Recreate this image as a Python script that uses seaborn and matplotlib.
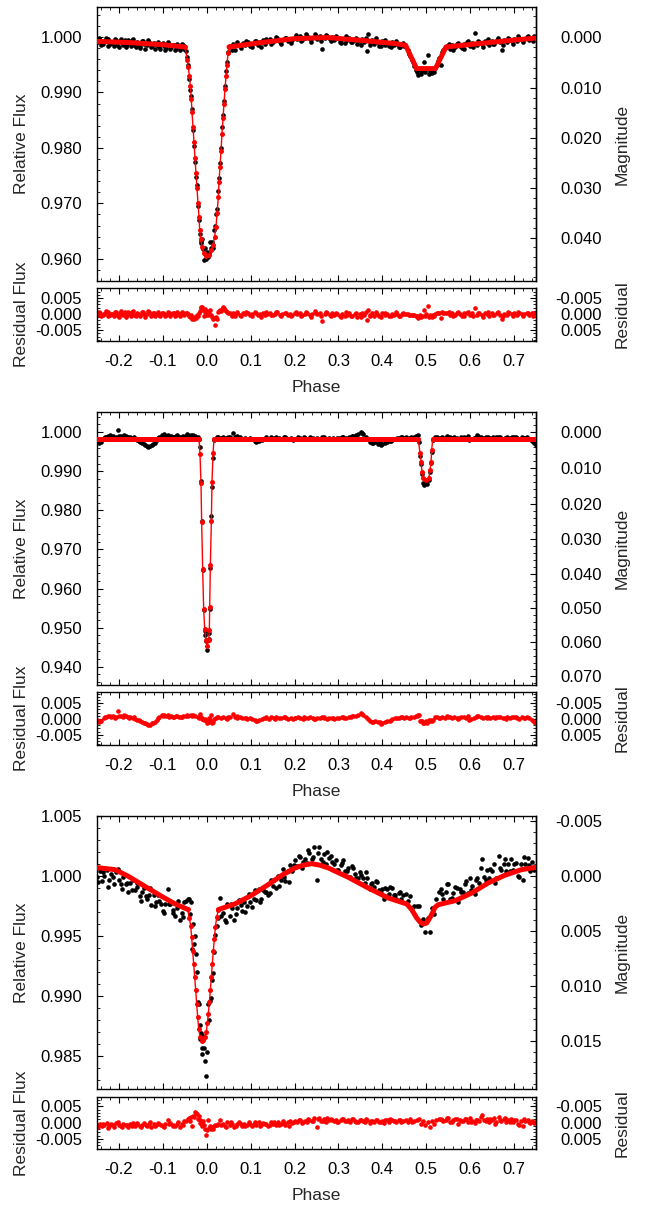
import numpy as np
import matplotlib
matplotlib.use("Agg")
import matplotlib.pyplot as plt
import seaborn as sns
from matplotlib.ticker import FixedLocator, AutoMinorLocator, FuncFormatter

# ---------------------------------------------------------------- panel 1 data
p1_phase = [
    -0.248, -0.243, -0.237, -0.232, -0.226, -0.221, -0.215, -0.209, -0.204, -0.198,
    -0.193, -0.187, -0.181, -0.176, -0.170, -0.165, -0.159, -0.153, -0.148, -0.142,
    -0.137, -0.131, -0.125, -0.120, -0.114, -0.109, -0.103, -0.097, -0.092, -0.086,
    -0.081, -0.075, -0.069, -0.064, -0.058, -0.053,
    -0.0475, -0.0440, -0.0418, -0.0395, -0.0372, -0.0352, -0.0330, -0.0312, -0.0290, -0.0268,
    -0.0246, -0.0224, -0.0200, -0.0178, -0.0160, -0.0140, -0.0125, -0.0108, -0.0090, -0.0070,
    -0.0050, -0.0030, -0.0010, 0.0010, 0.0030, 0.0055, 0.0075, 0.0097, 0.0120, 0.0142,
    0.0165, 0.0188, 0.0211, 0.0234, 0.0257, 0.0280, 0.0302, 0.0325, 0.0347, 0.0370,
    0.0393, 0.0416, 0.0439, 0.0461, 0.0484,
    0.054, 0.059, 0.065, 0.070, 0.076, 0.082, 0.087, 0.093, 0.099, 0.104,
    0.110, 0.116, 0.121, 0.127, 0.133, 0.138, 0.144, 0.150, 0.155, 0.161,
    0.167, 0.172, 0.178, 0.184, 0.189, 0.195, 0.201, 0.206, 0.212, 0.218,
    0.223, 0.229, 0.235, 0.240, 0.246, 0.252, 0.257, 0.262, 0.269, 0.274,
    0.280, 0.286, 0.291, 0.297, 0.303, 0.308, 0.314, 0.320, 0.325, 0.331,
    0.337, 0.342, 0.348, 0.354, 0.359, 0.364, 0.368, 0.371, 0.376, 0.382,
    0.388, 0.393, 0.399, 0.405, 0.410, 0.416, 0.422, 0.427, 0.433, 0.439,
    0.444, 0.450,
    0.455, 0.458, 0.461, 0.464, 0.467, 0.470, 0.473, 0.476, 0.479, 0.482,
    0.485, 0.488, 0.491, 0.494, 0.497, 0.500, 0.503, 0.506, 0.509, 0.512,
    0.515, 0.518, 0.521, 0.524, 0.527, 0.530, 0.533, 0.536, 0.539, 0.542,
    0.548, 0.553, 0.559, 0.565, 0.570, 0.576, 0.582, 0.587, 0.593, 0.599,
    0.604, 0.610, 0.616, 0.621, 0.627, 0.633, 0.638, 0.644, 0.650, 0.655,
    0.661, 0.667, 0.672, 0.678, 0.684, 0.689, 0.695, 0.701, 0.706, 0.712,
    0.718, 0.723, 0.729, 0.735, 0.740, 0.746,
]
p1_flux = [
    0.9990, 0.9995, 0.9988, 0.9993, 0.9996, 0.9987, 0.9991, 0.9997, 0.9986, 0.9992,
    0.9989, 0.9995, 0.9985, 0.9990, 0.9994, 0.9986, 0.9991, 0.9984, 0.9993, 0.9988,
    0.9985, 0.9991, 0.9983, 0.9989, 0.9986, 0.9981, 0.9988, 0.9984, 0.9980, 0.9987,
    0.9982, 0.9985, 0.9979, 0.9984, 0.9981, 0.9986,
    0.9975, 0.9963, 0.9950, 0.9925, 0.9905, 0.9893, 0.9870, 0.9832, 0.9803, 0.9774,
    0.9748, 0.9733, 0.9695, 0.9670, 0.9645, 0.9628, 0.9632, 0.9636, 0.9618, 0.9598,
    0.9608, 0.9619, 0.9600, 0.9612, 0.9603, 0.9610, 0.9631, 0.9620, 0.9630, 0.9619,
    0.9652, 0.9660, 0.9680, 0.9690, 0.9722, 0.9745, 0.9772, 0.9800, 0.9838, 0.9860,
    0.9885, 0.9912, 0.9938, 0.9955, 0.9972,
    0.9984, 0.9987, 0.9977, 0.9986, 0.9983, 0.9989, 0.9985, 0.9991, 0.9984, 0.9988,
    0.9993, 0.9986, 0.9991, 0.9994, 0.9988, 0.9992, 0.9996, 0.9990, 0.9994, 0.9998,
    0.9991, 0.9995, 0.9999, 0.9993, 0.9997, 0.9994, 0.9999, 0.9996, 1.0001, 0.9995,
    0.9998, 1.0002, 0.9996, 0.9999, 1.0006, 0.9997, 1.0001, 0.9978, 0.9999, 1.0002,
    0.9996, 1.0000, 0.9994, 0.9998, 0.9991, 0.9996, 0.9989, 0.9994, 0.9998, 0.9990,
    0.9995, 0.9987, 0.9993, 0.9997, 0.9991, 0.9975, 1.0006, 0.9990, 0.9994, 0.9987,
    0.9991, 0.9984, 0.9992, 0.9986, 0.9989, 0.9983, 0.9990, 0.9985, 0.9988, 0.9982,
    0.9987, 0.9984,
    0.9982, 0.9976, 0.9970, 0.9965, 0.9958, 0.9954, 0.9948, 0.9940, 0.9936, 0.9932,
    0.9940, 0.9934, 0.9938, 0.9955, 0.9936, 0.9942, 0.9968, 0.9933, 0.9939, 0.9935,
    0.9941, 0.9937, 0.9944, 0.9950, 0.9956, 0.9962, 0.9950, 0.9972, 0.9976, 0.9980,
    0.9984, 0.9979, 0.9986, 0.9982, 0.9988, 0.9984, 0.9980, 0.9987, 0.9990, 0.9983,
    0.9989, 1.0007, 0.9986, 0.9991, 0.9987, 0.9993, 0.9989, 0.9985, 0.9992, 0.9988,
    0.9995, 0.9990, 0.9977, 0.9994, 0.9991, 0.9997, 0.9993, 0.9996, 0.9992, 0.9999,
    0.9995, 0.9997, 1.0000, 0.9994, 0.9999, 1.0001,
]
p1_resid = [
    -0.0002, 0.0003, -0.0003, 0.0002, 0.0005, -0.0004, 0.0001, 0.0007, -0.0004, 0.0003,
    0.0000, 0.0006, -0.0004, 0.0002, 0.0006, -0.0002, 0.0004, -0.0003, 0.0006, 0.0001,
    -0.0001, 0.0005, -0.0003, 0.0004, 0.0001, -0.0004, 0.0003, 0.0000, -0.0004, 0.0003,
    -0.0001, 0.0002, -0.0004, 0.0001, -0.0001, 0.0004,
    0.0002, 0.0003, 0.0001, -0.0005, -0.0008, -0.0002, -0.0014, -0.0010, -0.0016, -0.0009,
    -0.0012, -0.0004, -0.0007, 0.0004, 0.0008, 0.0018, 0.0022, 0.0023, 0.0012, -0.0006,
    0.0006, 0.0015, -0.0003, 0.0009, -0.0004, 0.0002, 0.0014, -0.0002, -0.0009, -0.0016,
    -0.0012, -0.0034, -0.0008, -0.0015, 0.0005, 0.0008, 0.0013, 0.0009, 0.0016, 0.0021,
    0.0019, 0.0012, 0.0009, 0.0005, 0.0003,
    0.0002, 0.0004, -0.0007, 0.0002, -0.0002, 0.0004, -0.0001, 0.0004, -0.0003, 0.0000,
    0.0005, -0.0003, 0.0001, 0.0004, -0.0003, 0.0001, 0.0004, -0.0002, 0.0001, 0.0005,
    -0.0003, 0.0001, 0.0004, -0.0002, 0.0001, -0.0003, 0.0002, -0.0001, 0.0004, -0.0002,
    0.0000, 0.0004, -0.0002, 0.0001, 0.0008, -0.0001, 0.0002, -0.0021, 0.0000, 0.0003,
    -0.0003, 0.0002, -0.0004, 0.0000, -0.0006, -0.0001, -0.0007, -0.0002, 0.0002, -0.0005,
    0.0000, -0.0008, -0.0001, 0.0003, -0.0002, -0.0018, 0.0013, -0.0002, 0.0002, -0.0005,
    -0.0001, -0.0007, 0.0002, -0.0004, -0.0001, -0.0006, 0.0001, -0.0003, 0.0000, -0.0005,
    0.0001, -0.0001,
    0.0000, -0.0001, -0.0002, -0.0002, -0.0004, -0.0002, -0.0003, -0.0006, -0.0007, -0.0011,
    -0.0003, -0.0009, -0.0005, 0.0012, -0.0007, -0.0001, 0.0025, -0.0010, -0.0004, -0.0008,
    -0.0002, -0.0006, 0.0001, 0.0002, 0.0003, 0.0004, -0.0013, 0.0005, 0.0004, 0.0003,
    0.0002, -0.0004, 0.0003, -0.0002, 0.0004, -0.0001, -0.0005, 0.0002, 0.0004, -0.0003,
    0.0002, 0.0020, -0.0002, 0.0003, -0.0002, 0.0004, 0.0000, -0.0005, 0.0002, -0.0003,
    0.0004, -0.0002, -0.0015, 0.0001, -0.0002, 0.0004, -0.0001, 0.0002, -0.0003, 0.0004,
    -0.0001, 0.0001, 0.0004, -0.0003, 0.0002, 0.0003,
]
# second set of panel-1 observations (interleaved in phase)
p1_phase_b = [
    -0.246, -0.240, -0.235, -0.229, -0.224, -0.218, -0.212, -0.207, -0.201, -0.196,
    -0.190, -0.184, -0.179, -0.173, -0.167, -0.162, -0.156, -0.151, -0.145, -0.140,
    -0.134, -0.128, -0.123, -0.117, -0.111, -0.106, -0.100, -0.095, -0.089, -0.083,
    -0.078, -0.072, -0.067, -0.061, -0.056, -0.051,
    0.057, 0.068, 0.079, 0.090, 0.102, 0.113, 0.124, 0.135, 0.147, 0.158,
    0.169, 0.181, 0.192, 0.203, 0.215, 0.226, 0.237, 0.249, 0.260, 0.271,
    0.283, 0.294, 0.305, 0.317, 0.328, 0.339, 0.351, 0.362, 0.373, 0.385,
    0.396, 0.407, 0.419, 0.430, 0.441, 0.448,
    0.551, 0.562, 0.573, 0.585, 0.596, 0.607, 0.618, 0.630, 0.641, 0.652,
    0.664, 0.675, 0.686, 0.698, 0.709, 0.720, 0.732, 0.743,
]
p1_flux_b = [
    0.9998, 0.9985, 0.9993, 0.9999, 0.9984, 0.9989, 0.9983, 0.9995, 0.9982, 0.9997,
    0.9986, 0.9981, 0.9994, 0.9983, 0.9996, 0.9982, 0.9988, 0.9980, 0.9992, 0.9979,
    0.9994, 0.9981, 0.9988, 0.9978, 0.9991, 0.9979, 0.9989, 0.9977, 0.9990, 0.9978,
    0.9986, 0.9976, 0.9988, 0.9977, 0.9987, 0.9979,
    0.9976, 0.9990, 0.9980, 0.9993, 0.9982, 0.9993, 0.9982, 0.9996, 0.9988, 1.0000,
    0.9988, 0.9998, 0.9989, 1.0003, 0.9992, 1.0005, 0.9990, 1.0002, 0.9993, 1.0004,
    0.9992, 1.0001, 0.9989, 1.0002, 0.9991, 0.9999, 0.9985, 0.9998, 0.9986, 0.9998,
    0.9983, 0.9994, 0.9982, 0.9993, 0.9981, 0.9989,
    0.9988, 0.9976, 0.9989, 0.9979, 0.9993, 0.9982, 0.9992, 0.9981, 0.9996, 0.9987,
    0.9999, 0.9986, 0.9998, 0.9987, 1.0001, 0.9991, 1.0001, 0.9992,
]
p1_resid_b = [
    0.0006, -0.0007, 0.0000, 0.0008, -0.0007, -0.0001, -0.0007, 0.0005, -0.0008, 0.0008,
    -0.0003, -0.0008, 0.0005, -0.0005, 0.0008, -0.0006, 0.0000, -0.0007, 0.0005, -0.0008,
    0.0008, -0.0005, 0.0002, -0.0007, 0.0006, -0.0006, 0.0004, -0.0007, 0.0006, -0.0006,
    0.0003, -0.0007, 0.0005, -0.0006, 0.0005, -0.0003,
    -0.0007, 0.0006, -0.0005, 0.0007, -0.0006, 0.0004, -0.0008, 0.0005, -0.0004, 0.0007,
    -0.0006, 0.0003, -0.0007, 0.0006, -0.0005, 0.0007, -0.0008, 0.0004, -0.0006, 0.0005,
    -0.0007, 0.0003, -0.0008, 0.0006, -0.0005, 0.0004, -0.0009, 0.0005, -0.0006, 0.0007,
    -0.0008, 0.0004, -0.0007, 0.0005, -0.0006, 0.0003,
    0.0006, -0.0007, 0.0005, -0.0006, 0.0007, -0.0005, 0.0004, -0.0008, 0.0006, -0.0004,
    0.0007, -0.0006, 0.0005, -0.0007, 0.0006, -0.0005, 0.0004, -0.0006,
]
p1_model_phase = [
    -0.25, -0.18, -0.10, -0.0495, -0.0443, -0.0420, -0.0397, -0.0374, -0.0351, -0.0336,
    -0.0313, -0.0290, -0.0268, -0.0245, -0.0222, -0.0199, -0.0177, -0.0161, -0.0139, -0.0108,
    -0.0070, -0.0009, 0.0044, 0.0097, 0.0142, 0.0180, 0.0211, 0.0234, 0.0264, 0.0279,
    0.0302, 0.0325, 0.0347, 0.0370, 0.0393, 0.0416, 0.0439, 0.0461, 0.0484, 0.0507,
    0.125, 0.20, 0.275, 0.35, 0.43, 0.453, 0.478, 0.521, 0.545, 0.62, 0.695, 0.75,
]
p1_model_flux = [
    0.9992, 0.9990, 0.9986, 0.9982, 0.9958, 0.9945, 0.9930, 0.9912, 0.9888, 0.9864,
    0.9838, 0.9810, 0.9781, 0.9754, 0.9727, 0.9700, 0.9676, 0.9652, 0.9635, 0.9622,
    0.9611, 0.9605, 0.9607, 0.9615, 0.9625, 0.9640, 0.9658, 0.9682, 0.9711, 0.9739,
    0.9766, 0.9795, 0.9825, 0.9853, 0.9880, 0.9906, 0.9929, 0.9950, 0.9971, 0.9982,
    0.9990, 0.9997, 0.9999, 0.9994, 0.9988, 0.9985, 0.9943, 0.9943, 0.9982, 0.9988, 0.9994, 0.9998,
]

# ---------------------------------------------------------------- panel 2 data
p2_phase = [
    -0.249, -0.245, -0.240, -0.235, -0.229, -0.224, -0.218, -0.213, -0.207, -0.202,
    -0.196, -0.191, -0.185, -0.180, -0.174, -0.169, -0.163, -0.158, -0.152, -0.147,
    -0.141, -0.136, -0.130, -0.125, -0.119, -0.114, -0.108, -0.103, -0.097, -0.092,
    -0.086, -0.081, -0.075, -0.070, -0.064, -0.059, -0.053, -0.048, -0.042, -0.037,
    -0.031, -0.026, -0.021,
    -0.0170, -0.0154, -0.0131, -0.0116, -0.0093, -0.0070, -0.0047, -0.0030, -0.0017, 0.0013,
    0.0044, 0.0059, 0.0067, 0.0082, 0.0105, 0.0120, 0.0143, 0.0165,
    0.021, 0.026, 0.032, 0.037, 0.043, 0.048, 0.054, 0.059, 0.065, 0.070,
    0.076, 0.081, 0.087, 0.092, 0.098, 0.103, 0.109, 0.114, 0.120, 0.125,
    0.131, 0.136, 0.142, 0.147, 0.153, 0.158, 0.164, 0.169, 0.175, 0.180,
    0.186, 0.191, 0.197, 0.202, 0.208, 0.213, 0.219, 0.224, 0.230, 0.235,
    0.241, 0.246, 0.252, 0.257, 0.263, 0.268, 0.274, 0.279, 0.285, 0.290,
    0.296, 0.301, 0.307, 0.312, 0.318, 0.323, 0.329, 0.334, 0.340, 0.345,
    0.351, 0.356, 0.362, 0.367, 0.373, 0.378, 0.384, 0.389, 0.395, 0.400,
    0.406, 0.411, 0.417, 0.422, 0.428, 0.433, 0.439, 0.444, 0.450, 0.455,
    0.461, 0.466, 0.472, 0.477,
    0.4800, 0.4819, 0.4840, 0.4858, 0.4881, 0.4903, 0.4934, 0.4960, 0.4995, 0.5025,
    0.5056, 0.5086, 0.5109, 0.5124, 0.5147,
    0.520, 0.525, 0.531, 0.536, 0.542, 0.547, 0.553, 0.558, 0.564, 0.569,
    0.575, 0.580, 0.586, 0.591, 0.597, 0.602, 0.608, 0.613, 0.619, 0.624,
    0.630, 0.635, 0.641, 0.646, 0.652, 0.657, 0.663, 0.668, 0.674, 0.679,
    0.685, 0.690, 0.696, 0.701, 0.707, 0.712, 0.718, 0.723, 0.729, 0.734,
    0.740, 0.745, 0.749,
]
p2_flux = [
    0.9978, 0.9972, 0.9975, 0.9986, 0.9988, 0.9990, 0.9987, 0.9991, 0.9989, 1.0007,
    0.9990, 0.9988, 0.9991, 0.9989, 0.9987, 0.9985, 0.9983, 0.9980, 0.9976, 0.9972,
    0.9968, 0.9966, 0.9964, 0.9968, 0.9972, 0.9980, 0.9988, 0.9993, 0.9995, 0.9990,
    0.9988, 0.9991, 0.9989, 0.9990, 0.9987, 0.9989, 0.9991, 0.9990, 0.9992, 0.9994,
    0.9993, 0.9990, 0.9987,
    0.9982, 0.9962, 0.9876, 0.9772, 0.9648, 0.9545, 0.9492, 0.9480, 0.9465, 0.9442,
    0.9470, 0.9485, 0.9548, 0.9652, 0.9785, 0.9860, 0.9935, 0.9981,
    0.9984, 0.9987, 0.9985, 0.9988, 0.9986, 0.9989, 0.9987, 0.9997, 0.9988, 0.9985,
    0.9987, 0.9984, 0.9986, 0.9983, 0.9985, 0.9982, 0.9979, 0.9977, 0.9978, 0.9981,
    0.9984, 0.9986, 0.9983, 0.9987, 0.9985, 0.9988, 0.9986, 0.9984, 0.9987, 0.9985,
    0.9983, 0.9986, 0.9981, 0.9984, 0.9987, 0.9985, 0.9982, 0.9986, 0.9984, 0.9987,
    0.9985, 0.9983, 0.9986, 0.9984, 0.9987, 0.9985, 0.9982, 0.9986, 0.9984, 0.9983,
    0.9986, 0.9985, 0.9987, 0.9984, 0.9986, 0.9988, 0.9987, 0.9990, 0.9992, 0.9996,
    1.0002, 0.9995, 0.9988, 0.9982, 0.9976, 0.9973, 0.9975, 0.9971, 0.9974, 0.9969,
    0.9973, 0.9975, 0.9977, 0.9981, 0.9984, 0.9986, 0.9985, 0.9987, 0.9985, 0.9988,
    0.9986, 0.9989, 0.9987, 0.9990,
    0.9990, 0.9993, 0.9975, 0.9940, 0.9920, 0.9893, 0.9870, 0.9866, 0.9872, 0.9868,
    0.9878, 0.9898, 0.9922, 0.9950, 0.9980,
    0.9987, 0.9989, 0.9985, 0.9988, 0.9986, 0.9990, 0.9987, 0.9985, 0.9988, 0.9986,
    0.9984, 0.9987, 0.9989, 0.9985, 0.9980, 0.9983, 0.9986, 0.9989, 0.9991, 0.9988,
    0.9986, 0.9989, 0.9987, 0.9985, 0.9988, 0.9986, 0.9989, 0.9987, 0.9984, 0.9986,
    0.9988, 0.9985, 0.9987, 0.9989, 0.9986, 0.9983, 0.9987, 0.9985, 0.9988, 0.9984,
    0.9979, 0.9972, 0.9968,
]
p2_resid = [
    -0.0004, -0.0010, -0.0007, 0.0004, 0.0006, 0.0008, 0.0005, 0.0009, 0.0007, 0.0025,
    0.0008, 0.0006, 0.0009, 0.0007, 0.0005, 0.0003, 0.0001, -0.0002, -0.0006, -0.0010,
    -0.0014, -0.0016, -0.0018, -0.0014, -0.0010, -0.0002, 0.0006, 0.0011, 0.0013, 0.0008,
    0.0006, 0.0009, 0.0007, 0.0008, 0.0005, 0.0007, 0.0009, 0.0008, 0.0010, 0.0012,
    0.0011, 0.0008, 0.0005,
    0.0003, 0.0017, 0.0007, 0.0001, -0.0001, -0.0002, -0.0004, 0.0000, -0.0002, -0.0012,
    0.0003, -0.0009, -0.0004, -0.0007, 0.0011, -0.0014, -0.0011, -0.0001,
    0.0002, 0.0005, 0.0003, 0.0006, 0.0004, 0.0007, 0.0005, 0.0015, 0.0006, 0.0003,
    0.0005, 0.0002, 0.0004, 0.0001, 0.0003, 0.0000, -0.0003, -0.0005, -0.0004, -0.0001,
    0.0002, 0.0004, 0.0001, 0.0005, 0.0003, 0.0006, 0.0004, 0.0002, 0.0005, 0.0003,
    0.0001, 0.0004, -0.0001, 0.0002, 0.0005, 0.0003, 0.0000, 0.0004, 0.0002, 0.0005,
    0.0003, 0.0001, 0.0004, 0.0002, 0.0005, 0.0003, 0.0000, 0.0004, 0.0002, 0.0001,
    0.0004, 0.0003, 0.0005, 0.0002, 0.0004, 0.0006, 0.0005, 0.0008, 0.0010, 0.0014,
    0.0020, 0.0013, 0.0006, 0.0000, -0.0006, -0.0009, -0.0007, -0.0011, -0.0008, -0.0013,
    -0.0009, -0.0007, -0.0005, -0.0001, 0.0002, 0.0004, 0.0003, 0.0005, 0.0003, 0.0006,
    0.0004, 0.0007, 0.0005, 0.0008,
    0.0008, 0.0011, 0.0012, -0.0006, -0.0005, -0.0006, -0.0012, -0.0014, -0.0006, -0.0012,
    -0.0004, -0.0005, -0.0003, -0.0005, -0.0002,
    0.0005, 0.0007, 0.0003, 0.0006, 0.0004, 0.0008, 0.0005, 0.0003, 0.0006, 0.0004,
    0.0002, 0.0005, 0.0007, 0.0003, -0.0002, 0.0001, 0.0004, 0.0007, 0.0009, 0.0006,
    0.0004, 0.0007, 0.0005, 0.0003, 0.0006, 0.0004, 0.0007, 0.0005, 0.0002, 0.0004,
    0.0006, 0.0003, 0.0005, 0.0007, 0.0004, 0.0001, 0.0005, 0.0003, 0.0006, 0.0002,
    -0.0003, -0.0010, -0.0014,
]
p2_phase_b = [
    -0.243, -0.232, -0.221, -0.210, -0.199, -0.188, -0.177, -0.166, -0.155, -0.144,
    -0.133, -0.122, -0.111, -0.100, -0.089, -0.078, -0.067, -0.056, -0.045, -0.034,
    0.024, 0.046, 0.068, 0.090, 0.112, 0.134, 0.156, 0.178, 0.200, 0.222,
    0.244, 0.266, 0.288, 0.310, 0.332, 0.354, 0.376, 0.398, 0.420, 0.442, 0.464,
    0.528, 0.550, 0.572, 0.594, 0.616, 0.638, 0.660, 0.682, 0.704, 0.726, 0.747,
]
p2_flux_b = [
    0.9977, 0.9989, 0.9992, 0.9986, 0.9991, 0.9993, 0.9986, 0.9988, 0.9979, 0.9969,
    0.9962, 0.9970, 0.9985, 0.9991, 0.9994, 0.9987, 0.9992, 0.9988, 0.9995, 0.9991,
    0.9989, 0.9983, 0.9990, 0.9984, 0.9976, 0.9988, 0.9983, 0.9989, 0.9984, 0.9988,
    0.9982, 0.9987, 0.9985, 0.9989, 0.9991, 0.9999, 0.9972, 0.9967, 0.9978, 0.9989, 0.9984,
    0.9984, 0.9988, 0.9983, 0.9990, 0.9992, 0.9985, 0.9988, 0.9983, 0.9989, 0.9986, 0.9974,
]
p2_resid_b = [
    -0.0005, 0.0007, 0.0010, 0.0004, 0.0009, 0.0011, 0.0004, 0.0006, -0.0003, -0.0013,
    -0.0020, -0.0012, 0.0003, 0.0009, 0.0012, 0.0005, 0.0010, 0.0006, 0.0013, 0.0009,
    0.0007, 0.0001, 0.0008, 0.0002, -0.0006, 0.0006, 0.0001, 0.0007, 0.0002, 0.0006,
    0.0000, 0.0005, 0.0003, 0.0007, 0.0009, 0.0017, -0.0010, -0.0015, -0.0004, 0.0007, 0.0002,
    0.0002, 0.0006, 0.0001, 0.0008, 0.0010, 0.0003, 0.0006, 0.0001, 0.0007, 0.0004, -0.0008,
]
p2_model_phase = [
    -0.25, -0.0175, -0.0154, -0.0131, -0.0116, -0.0093, -0.0070, -0.0047, -0.0017, 0.0013,
    0.0044, 0.0059, 0.0067, 0.0082, 0.0105, 0.0120, 0.0143, 0.0165,
    0.4819, 0.4858, 0.4881, 0.4903, 0.4934, 0.4995, 0.5056, 0.5086, 0.5109, 0.5124, 0.5147, 0.75,
]
p2_model_flux = [
    0.9982, 0.9982, 0.9944, 0.9869, 0.9771, 0.9649, 0.9547, 0.9496, 0.9467, 0.9454,
    0.9467, 0.9494, 0.9552, 0.9659, 0.9774, 0.9874, 0.9946, 0.9982,
    0.9982, 0.9946, 0.9925, 0.9899, 0.9882, 0.9878, 0.9882, 0.9903, 0.9925, 0.9955, 0.9982, 0.9982,
]

# ---------------------------------------------------------------- panel 3 data
p3_phase = [
    -0.249, -0.244, -0.238, -0.233, -0.228, -0.222, -0.217, -0.212, -0.206, -0.201,
    -0.196, -0.190, -0.185, -0.180, -0.174, -0.169, -0.164, -0.158, -0.153, -0.148,
    -0.142, -0.137, -0.132, -0.126, -0.121, -0.116, -0.110, -0.105, -0.100, -0.094,
    -0.089, -0.084, -0.078, -0.073, -0.068, -0.062, -0.057, -0.052, -0.047,
    -0.0430, -0.0410, -0.0390, -0.0366, -0.0344, -0.0321, -0.0298, -0.0275, -0.0252, -0.0230,
    -0.0207, -0.0184, -0.0165, -0.0154, -0.0135, -0.0116, -0.0097, -0.0078, -0.0059, -0.0040,
    -0.0010, 0.0013, 0.0036, 0.0059, 0.0082, 0.0104, 0.0127, 0.0150, 0.0173, 0.0196,
    0.0226, 0.0250,
    0.030, 0.036, 0.041, 0.047, 0.052, 0.058, 0.063, 0.069, 0.074, 0.080,
    0.085, 0.091, 0.096, 0.102, 0.107, 0.113, 0.118, 0.124, 0.129, 0.135,
    0.140, 0.146, 0.151, 0.157, 0.162, 0.168, 0.173, 0.179, 0.184, 0.190,
    0.195, 0.201, 0.206, 0.212, 0.217, 0.223, 0.228, 0.234, 0.239, 0.245,
    0.250, 0.256, 0.261, 0.267, 0.272, 0.278, 0.283, 0.289, 0.294, 0.300,
    0.305, 0.311, 0.316, 0.322, 0.327, 0.333, 0.338, 0.344, 0.349, 0.355,
    0.360, 0.366, 0.371, 0.377, 0.382, 0.388, 0.393, 0.399, 0.404, 0.410,
    0.415, 0.421, 0.426, 0.432, 0.437, 0.443, 0.448,
    0.453, 0.458, 0.463, 0.468, 0.473, 0.478, 0.483, 0.488, 0.493, 0.498,
    0.503, 0.508, 0.513, 0.518, 0.523, 0.528,
    0.533, 0.539, 0.544, 0.550, 0.555, 0.561, 0.566, 0.572, 0.577, 0.583,
    0.588, 0.594, 0.599, 0.605, 0.610, 0.616, 0.621, 0.627, 0.632, 0.638,
    0.643, 0.649, 0.654, 0.660, 0.665, 0.671, 0.676, 0.682, 0.687, 0.693,
    0.698, 0.704, 0.709, 0.715, 0.720, 0.726, 0.731, 0.737, 0.742, 0.748,
]
p3_flux = [
    0.9999, 1.0004, 0.9996, 1.0000, 1.0005, 0.9997, 1.0002, 0.9993, 1.0003, 0.9997,
    0.9993, 0.9999, 0.9993, 0.9987, 0.9994, 0.9997, 0.9988, 0.9991, 0.9983, 0.9987,
    0.9990, 0.9981, 0.9984, 0.9976, 0.9984, 0.9978, 0.9984, 0.9977, 0.9971, 0.9977,
    0.9989, 0.9977, 0.9972, 0.9967, 0.9973, 0.9963, 0.9969, 0.9978, 0.9979,
    0.9981, 0.9981, 0.9968, 0.9978, 0.9939, 0.9960, 0.9943, 0.9950, 0.9935, 0.9920,
    0.9895, 0.9893, 0.9876, 0.9864, 0.9869, 0.9857, 0.9852, 0.9867, 0.9857, 0.9846,
    0.9833, 0.9853, 0.9893, 0.9880, 0.9896, 0.9898, 0.9913, 0.9919, 0.9937, 0.9951,
    0.9958, 0.9965,
    0.9982, 0.9969, 0.9963, 0.9977, 0.9967, 0.9973, 0.9963, 0.9973, 0.9980, 0.9971,
    0.9978, 0.9975, 0.9985, 0.9974, 0.9981, 0.9980, 0.9989, 0.9981, 0.9988, 0.9987,
    0.9984, 0.9997, 0.9992, 0.9990, 1.0000, 0.9997, 1.0006, 0.9996, 1.0004, 1.0009,
    1.0004, 1.0013, 1.0008, 1.0016, 1.0007, 1.0014, 1.0011, 1.0019, 1.0014, 1.0024,
    0.9997, 1.0024, 1.0014, 1.0018, 1.0010, 1.0015, 1.0017, 1.0010, 1.0013, 1.0005,
    1.0009, 1.0013, 1.0004, 1.0007, 0.9999, 1.0007, 1.0002, 0.9998, 1.0003, 0.9998,
    0.9994, 0.9998, 0.9989, 0.9994, 0.9991, 0.9995, 0.9988, 0.9989, 0.9981, 0.9989,
    0.9985, 0.9990, 0.9984, 0.9981, 0.9986, 0.9981, 0.9984,
    0.9985, 0.9979, 0.9983, 0.9973, 0.9975, 0.9975, 0.9975, 0.9959, 0.9964, 0.9953,
    0.9965, 0.9953, 0.9973, 0.9968, 0.9981, 0.9987,
    0.9989, 0.9981, 0.9987, 0.9993, 0.9981, 0.9986, 0.9991, 0.9978, 0.9989, 0.9987,
    0.9993, 0.9986, 0.9998, 0.9992, 0.9985, 0.9998, 0.9994, 1.0014, 0.9999, 1.0005,
    0.9998, 1.0004, 1.0010, 0.9998, 1.0017, 1.0005, 1.0010, 1.0004, 1.0010, 1.0014,
    1.0005, 1.0011, 1.0000, 1.0010, 0.9997, 1.0010, 1.0015, 1.0004, 1.0012, 1.0008,
]
p3_resid = [
    -0.0008, -0.0003, -0.0011, -0.0006, -0.0001, -0.0009, -0.0004, -0.0012, -0.0002, -0.0007,
    -0.0010, -0.0003, -0.0008, -0.0013, -0.0005, -0.0001, -0.0009, -0.0004, -0.0011, -0.0006,
    -0.0002, -0.0010, -0.0005, -0.0012, -0.0003, -0.0008, -0.0001, -0.0007, -0.0011, -0.0004,
    0.0009, -0.0002, -0.0006, -0.0010, -0.0003, -0.0012, -0.0005, 0.0004, 0.0006,
    0.0010, 0.0014, 0.0004, 0.0019, -0.0010, 0.0022, 0.0016, 0.0034, 0.0030, 0.0026,
    0.0012, 0.0020, 0.0008, -0.0002, 0.0005, -0.0006, -0.0011, 0.0004, -0.0008, -0.0020,
    -0.0037, -0.0024, 0.0008, -0.0015, -0.0009, -0.0018, -0.0014, -0.0019, -0.0011, -0.0006,
    -0.0008, -0.0004,
    0.0009, -0.0004, -0.0011, 0.0002, -0.0008, -0.0003, -0.0014, -0.0005, 0.0001, -0.0009,
    -0.0003, -0.0007, 0.0002, -0.0010, -0.0004, -0.0006, 0.0001, -0.0008, -0.0002, -0.0005,
    -0.0009, 0.0003, -0.0004, -0.0007, 0.0002, -0.0003, 0.0005, -0.0006, 0.0001, 0.0004,
    -0.0002, 0.0006, 0.0001, 0.0008, -0.0001, 0.0005, 0.0002, 0.0009, 0.0004, 0.0014,
    -0.0012, 0.0015, 0.0006, 0.0010, 0.0003, 0.0008, 0.0011, 0.0005, 0.0009, 0.0002,
    0.0007, 0.0012, 0.0004, 0.0008, 0.0001, 0.0010, 0.0006, 0.0003, 0.0009, 0.0005,
    0.0002, 0.0008, -0.0001, 0.0006, 0.0003, 0.0009, 0.0002, 0.0005, -0.0002, 0.0007,
    0.0003, 0.0009, 0.0004, 0.0001, 0.0007, 0.0003, 0.0006,
    0.0008, 0.0003, 0.0010, 0.0002, 0.0006, 0.0009, 0.0011, -0.0003, 0.0004, -0.0008,
    0.0002, -0.0012, 0.0005, -0.0003, 0.0008, 0.0011,
    0.0012, 0.0004, 0.0009, 0.0015, 0.0002, 0.0007, 0.0011, -0.0003, 0.0008, 0.0005,
    0.0010, 0.0002, 0.0013, 0.0006, -0.0002, 0.0009, 0.0004, 0.0023, 0.0007, 0.0011,
    0.0003, 0.0008, 0.0014, 0.0001, 0.0019, 0.0006, 0.0010, 0.0003, 0.0008, 0.0012,
    0.0002, 0.0007, -0.0004, 0.0005, -0.0009, 0.0004, 0.0009, -0.0002, 0.0005, 0.0001,
]
p3_phase_b = [
    -0.247, -0.236, -0.225, -0.214, -0.203, -0.192, -0.182, -0.171, -0.160, -0.150,
    -0.139, -0.129, -0.118, -0.108, -0.097, -0.086, -0.076, -0.065, -0.055,
    0.033, 0.044, 0.055, 0.066, 0.077, 0.088, 0.099, 0.110, 0.121, 0.132,
    0.143, 0.154, 0.165, 0.176, 0.187, 0.198, 0.209, 0.220, 0.231, 0.242,
    0.253, 0.264, 0.275, 0.286, 0.297, 0.308, 0.319, 0.330, 0.341, 0.352,
    0.363, 0.374, 0.385, 0.396, 0.407, 0.418, 0.429, 0.440,
    0.536, 0.547, 0.558, 0.569, 0.580, 0.591, 0.602, 0.613, 0.624, 0.635,
    0.646, 0.657, 0.668, 0.679, 0.690, 0.701, 0.712, 0.723, 0.734, 0.745,
]
p3_flux_b = [
    0.9995, 1.0003, 0.9991, 0.9999, 1.0006, 0.9989, 0.9994, 0.9988, 0.9994, 0.9979,
    0.9983, 0.9990, 0.9975, 0.9979, 0.9969, 0.9977, 0.9969, 0.9979, 0.9966,
    0.9967, 0.9962, 0.9977, 0.9968, 0.9976, 0.9970, 0.9978, 0.9988, 0.9978, 0.9987,
    0.9986, 0.9997, 0.9992, 0.9999, 0.9995, 1.0009, 1.0017, 1.0012, 1.0022, 1.0016,
    1.0019, 1.0012, 1.0020, 1.0012, 1.0005, 1.0011, 1.0004, 1.0008, 0.9998, 1.0001,
    1.0003, 0.9993, 0.9996, 0.9986, 0.9990, 0.9991, 0.9984, 0.9987,
    0.9985, 0.9993, 0.9982, 0.9990, 0.9987, 0.9996, 0.9988, 0.9997, 1.0007, 0.9997,
    1.0006, 0.9994, 1.0007, 1.0014, 1.0004, 1.0010, 0.9999, 1.0016, 1.0009, 1.0005,
]
p3_resid_b = [
    -0.0012, -0.0004, -0.0015, -0.0007, 0.0002, -0.0013, -0.0006, -0.0010, -0.0002, -0.0014,
    -0.0008, 0.0001, -0.0011, -0.0005, -0.0013, -0.0003, -0.0009, 0.0003, -0.0008,
    -0.0006, -0.0012, 0.0001, -0.0009, -0.0003, -0.0011, -0.0005, 0.0002, -0.0010, -0.0004,
    -0.0008, 0.0001, -0.0007, -0.0002, -0.0009, 0.0003, 0.0009, 0.0003, 0.0012, 0.0006,
    0.0010, 0.0004, 0.0013, 0.0007, 0.0002, 0.0010, 0.0005, 0.0011, 0.0003, 0.0008,
    0.0012, 0.0004, 0.0009, 0.0001, 0.0007, 0.0010, 0.0004, 0.0008,
    0.0008, 0.0015, 0.0003, 0.0010, 0.0005, 0.0012, 0.0002, 0.0009, 0.0016, 0.0004,
    0.0011, -0.0003, 0.0008, 0.0013, 0.0002, 0.0007, -0.0006, 0.0010, 0.0003, -0.0002,
]
p3_model_phase = [
    -0.25, -0.209, -0.179, -0.141, -0.103, -0.072, -0.0435,
    -0.0397, -0.0366, -0.0344, -0.0321, -0.0298, -0.0275, -0.0252, -0.0230, -0.0207, -0.0184,
    -0.0154, -0.0116, -0.0078, -0.0040, -0.0010, 0.0013, 0.0036, 0.0059, 0.0082, 0.0104,
    0.0127, 0.0150, 0.0173, 0.0196, 0.0226,
    0.0264, 0.064, 0.102, 0.140, 0.171, 0.201, 0.220, 0.239, 0.258, 0.277,
    0.3225, 0.368, 0.4136, 0.4555, 0.4669, 0.4783, 0.4858, 0.4933, 0.5010, 0.5124,
    0.5199, 0.5275, 0.5655, 0.6035, 0.641, 0.679, 0.717, 0.75,
]
p3_model_flux = [
    1.0007, 1.00053, 0.99998, 0.99914, 0.99831, 0.99767, 0.99722,
    0.99649, 0.99586, 0.99489, 0.99378, 0.99268, 0.99157, 0.99047, 0.98936, 0.98826, 0.98729,
    0.98660, 0.98627, 0.98633, 0.98660, 0.98702, 0.98771, 0.98854, 0.98950, 0.99047, 0.99157,
    0.99268, 0.99378, 0.99475, 0.99572, 0.99655,
    0.99720, 0.99767, 0.99839, 0.99928, 1.00006, 1.00067, 1.00090, 1.00103, 1.00090, 1.00067,
    0.99989, 0.99900, 0.99817, 0.99767, 0.99720, 0.99650, 0.99617, 0.99600, 0.99608, 0.99678,
    0.99739, 0.99761, 0.99794, 0.99858, 0.99942, 1.00006, 1.00053, 1.00072,
]

# ---------------------------------------------------------------- axis tick values
x_ticks = [-0.2, -0.1, 0.0, 0.1, 0.2, 0.3, 0.4, 0.5, 0.6, 0.7]
p1_flux_ticks = [0.960, 0.970, 0.980, 0.990, 1.000]
p2_flux_ticks = [0.940, 0.950, 0.960, 0.970, 0.980, 0.990, 1.000]
p3_flux_ticks = [0.985, 0.990, 0.995, 1.000, 1.005]
p1_mag_ticks = [0.000, 0.010, 0.020, 0.030, 0.040]
p2_mag_ticks = [0.000, 0.010, 0.020, 0.030, 0.040, 0.050, 0.060, 0.070]
p3_mag_ticks = [-0.005, 0.000, 0.005, 0.010, 0.015]
resid_ticks = [-0.005, 0.000, 0.005]

for grp in [(p1_phase, p1_flux, p1_resid), (p1_phase_b, p1_flux_b, p1_resid_b),
            (p2_phase, p2_flux, p2_resid), (p2_phase_b, p2_flux_b, p2_resid_b),
            (p3_phase, p3_flux, p3_resid), (p3_phase_b, p3_flux_b, p3_resid_b)]:
    assert len(grp[0]) == len(grp[1]) == len(grp[2]), [len(g) for g in grp]
assert len(p1_model_phase) == len(p1_model_flux)
assert len(p2_model_phase) == len(p2_model_flux)
assert len(p3_model_phase) == len(p3_model_flux)

# ---------------------------------------------------------------- style
sns.set_theme(style="ticks")
plt.rcParams["font.family"] = ["Liberation Sans", "DejaVu Sans"]
plt.rcParams["axes.unicode_minus"] = False
plt.rcParams["axes.linewidth"] = 1.0
TICK_FS = 12
LABEL_FS = 12.5
RED = "#ff0000"

W, H = 654, 1205
fig = plt.figure(figsize=(W / 100, H / 100), dpi=100)


def rect(l, t, r, b):
    return [l / W, 1 - b / H, (r - l) / W, (b - t) / H]


def fmt(decimals):
    return FuncFormatter(lambda v, p: f"{round(v, 6) + 0.0:.{decimals}f}")


def flux_to_mag(f):
    return -2.5 * np.log10(np.clip(f, 1e-6, None))


def mag_to_flux(m):
    return 10 ** (-0.4 * np.asarray(m))


def neg(y):
    return -np.asarray(y)


LEFT_LABEL_X = (22 - 97) / 439
RIGHT_LABEL_X = (622 - 97) / 439
RIGHT_PAD = 47.5
right_label_axes = []


def style_common(ax):
    ax.set_xlim(-0.25, 0.75)
    ax.xaxis.set_major_locator(FixedLocator(x_ticks))
    ax.xaxis.set_minor_locator(AutoMinorLocator(5))
    ax.xaxis.set_major_formatter(fmt(1))
    ax.tick_params(which="both", direction="in", top=True, bottom=True, left=True, right=False,
                   labelsize=TICK_FS, colors="black")
    ax.tick_params(which="major", length=4.0, width=0.8)
    ax.tick_params(which="minor", length=2.0, width=0.6)
    ax.tick_params(axis="y", pad=10.8)
    ax.tick_params(axis="x", pad=9.0)
    for s in ax.spines.values():
        s.set_visible(True)
        s.set_color("black")
        s.set_linewidth(1.0)


def style_secondary(sec, ticks):
    sec.yaxis.set_major_locator(FixedLocator(ticks))
    sec.yaxis.set_minor_locator(AutoMinorLocator(5))
    sec.yaxis.set_major_formatter(fmt(3))
    sec.tick_params(which="both", direction="in", labelsize=TICK_FS, pad=RIGHT_PAD, colors="black")
    sec.tick_params(which="major", length=4.0, width=0.8)
    sec.tick_params(which="minor", length=2.0, width=0.6)
    right_label_axes.append(sec)


def draw_panel(main_box, res_box, phase, flux, resid, mphase, mflux, thin_windows,
               ylim, yticks, magticks, res_ylim):
    ax = fig.add_axes(rect(*main_box))
    axr = fig.add_axes(rect(*res_box))

    # observations
    sns.scatterplot(x=phase, y=flux, ax=ax, color="black", s=11, linewidth=0, zorder=2)

    # model: dense parts drawn as a thick band, sparse eclipse parts as line + points
    mp = np.asarray(mphase)
    mf = np.asarray(mflux)
    inside = np.zeros(len(mp), bool)
    for lo, hi in thin_windows:
        inside |= (mp > lo) & (mp < hi)
    runs, run = [], []
    for i in range(len(mp)):
        if not inside[i]:
            run.append(i)
        else:
            if len(run) > 1:
                runs.append(run)
            run = []
    if len(run) > 1:
        runs.append(run)
    for r in runs:
        sns.lineplot(x=mp[r], y=mf[r], ax=ax, color=RED, linewidth=3.6, sort=False,
                     estimator=None, solid_joinstyle="round", solid_capstyle="round", zorder=3)
    for lo, hi in thin_windows:
        idx = np.where((mp >= lo) & (mp <= hi))[0]
        sns.lineplot(x=mp[idx], y=mf[idx], ax=ax, color=RED, linewidth=1.0, sort=False,
                     estimator=None, marker="o", markersize=3.6, markeredgewidth=0, zorder=4)

    style_common(ax)
    ax.set_ylim(*ylim)
    ax.yaxis.set_major_locator(FixedLocator(yticks))
    ax.yaxis.set_minor_locator(AutoMinorLocator(5))
    ax.yaxis.set_major_formatter(fmt(3))
    ax.tick_params(labelbottom=False)
    ax.set_xlabel("")
    ax.set_ylabel("Relative Flux", fontsize=LABEL_FS)
    ax.yaxis.label.set_va("center")
    ax.yaxis.set_label_coords(LEFT_LABEL_X, 0.5)

    sec = ax.secondary_yaxis("right", functions=(flux_to_mag, mag_to_flux))
    style_secondary(sec, magticks)
    sec.set_ylabel("Magnitude", fontsize=LABEL_FS)
    sec.yaxis.label.set_va("center")
    sec.yaxis.set_label_coords(RIGHT_LABEL_X, 0.5, transform=ax.transAxes)

    # residuals
    sns.scatterplot(x=phase, y=resid, ax=axr, color=RED, s=11, linewidth=0, zorder=2)
    style_common(axr)
    axr.set_ylim(*res_ylim)
    axr.yaxis.set_major_locator(FixedLocator(resid_ticks))
    axr.yaxis.set_minor_locator(AutoMinorLocator(5))
    axr.yaxis.set_major_formatter(fmt(3))
    axr.set_ylabel("Residual Flux", fontsize=LABEL_FS)
    axr.yaxis.label.set_va("center")
    axr.yaxis.set_label_coords(LEFT_LABEL_X, 0.5)
    axr.set_xlabel("Phase", fontsize=LABEL_FS)
    axr.xaxis.label.set_va("center")
    axr.xaxis.set_label_coords(0.5, -(46.0 / (res_box[3] - res_box[1])))

    secr = axr.secondary_yaxis("right", functions=(neg, neg))
    style_secondary(secr, resid_ticks)
    secr.set_ylabel("Residual", fontsize=LABEL_FS)
    secr.yaxis.label.set_va("center")
    secr.yaxis.set_label_coords(RIGHT_LABEL_X, 0.5, transform=axr.transAxes)


draw_panel((97, 7, 536, 281), (97, 288, 536, 341),
           p1_phase + p1_phase_b, p1_flux + p1_flux_b, p1_resid + p1_resid_b,
           p1_model_phase, p1_model_flux, [(-0.0495, 0.0507)],
           (0.9560, 1.0054), p1_flux_ticks, p1_mag_ticks, (-0.0084, 0.0081))
draw_panel((97, 412, 536, 685), (97, 692, 536, 745),
           p2_phase + p2_phase_b, p2_flux + p2_flux_b, p2_resid + p2_resid_b,
           p2_model_phase, p2_model_flux, [(-0.0175, 0.0165), (0.4819, 0.5147)],
           (0.9353, 1.0052), p2_flux_ticks, p2_mag_ticks, (-0.0082, 0.0085))
draw_panel((97, 816, 536, 1089), (97, 1097, 536, 1149),
           p3_phase + p3_phase_b, p3_flux + p3_flux_b, p3_resid + p3_resid_b,
           p3_model_phase, p3_model_flux, [(-0.0435, 0.0264)],
           (0.98225, 1.0050), p3_flux_ticks, p3_mag_ticks, (-0.0081, 0.0079))

fig.canvas.draw()
for sec in right_label_axes:
    for lab in sec.get_yticklabels():
        lab.set_horizontalalignment("right")

fig.savefig("out.png", dpi=100)
